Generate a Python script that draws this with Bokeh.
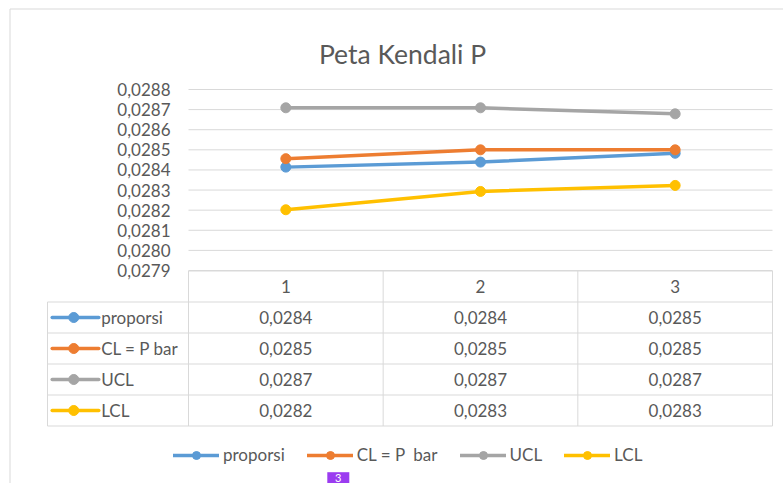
from bokeh.plotting import figure
from bokeh.models import Range1d, Legend, LegendItem
from bokeh.core.properties import value
from bokeh.embed import file_html
from bokeh.resources import INLINE

# ---------------- data ----------------
title_text = "Peta Kendali P"
categories = ["1", "2", "3"]
cat_pos = [1, 2, 3]
proporsi = [0.028414, 0.028439, 0.028483]
cl_pbar = [0.028456, 0.028500, 0.028500]
ucl = [0.028709, 0.028709, 0.028679]
lcl = [0.028202, 0.028293, 0.028323]
series_names = ["proporsi", "CL = P  bar", "UCL", "LCL"]
series_values = [proporsi, cl_pbar, ucl, lcl]
series_colors = ["#5B9BD5", "#ED7D31", "#A5A5A5", "#FFC000"]
y_ticks = [0.0279, 0.0280, 0.0281, 0.0282, 0.0283, 0.0284, 0.0285, 0.0286, 0.0287, 0.0288]
badge_text = "3"

def fmt(v):
    return f"{v:.4f}".replace(".", ",")

FONT = value("Lato")
GREY_TXT = "#595959"
GRID = "#D9D9D9"

W, H = 783, 483
p = figure(width=W, height=H, output_backend="svg", toolbar_location=None,
           x_range=Range1d(-0.4657, 3.5565), y_range=Range1d(6.8548, -8.7258),
           x_axis_location=None, y_axis_location=None,
           min_border=0, min_border_left=0, min_border_right=0,
           min_border_top=0, min_border_bottom=0)
p.extra_x_ranges = {"px": Range1d(0, W)}
p.extra_y_ranges = {"px": Range1d(H, 0),
                    "val": Range1d(0.0268409, 0.0292425)}
p.grid.visible = False
p.outline_line_color = None
p.background_fill_color = "white"
p.border_fill_color = "white"

# chart border (left & top visible)
p.segment(x0=[9.5, 9.5], y0=[8.5, 8.5], x1=[9.5, W], y1=[H, 8.5],
          x_range_name="px", y_range_name="px", line_color=GRID, line_width=1)

# title
p.text(x=[402], y=[53], text=[title_text], x_range_name="px", y_range_name="px",
       text_font=FONT, text_font_size=value("26.5px"), text_color=GREY_TXT,
       text_align="center", text_baseline="alphabetic")

# gridlines & y tick labels
p.segment(x0=[0.5] * len(y_ticks), x1=[3.5] * len(y_ticks), y0=y_ticks, y1=y_ticks,
          y_range_name="val", line_color=GRID, line_width=1)
p.text(x=[0.4076] * len(y_ticks), y=y_ticks, text=[fmt(t) for t in y_ticks],
       y_range_name="val", text_font=FONT, text_font_size=value("17px"),
       text_color=GREY_TXT, text_align="right", text_baseline="middle")

# series
legend_items = []
for name, vals, col in zip(series_names, series_values, series_colors):
    lr = p.line(cat_pos, vals, y_range_name="val", line_color=col, line_width=3.5,
                line_cap="round", line_join="round")
    sr = p.scatter(cat_pos, vals, y_range_name="val", size=10, fill_color=col,
                   line_color=col, line_width=1, marker="circle")
    legend_items.append(LegendItem(label=name, renderers=[lr, sr]))

# ---------------- data table ----------------
n_rows = len(series_names)
left_x = -0.2243
# horizontal lines
p.segment(x0=[0.5], x1=[3.5], y0=[0], y1=[0], line_color=GRID, line_width=1)
p.segment(x0=[left_x] * n_rows, x1=[3.5] * n_rows,
          y0=list(range(1, n_rows + 1)), y1=list(range(1, n_rows + 1)),
          line_color=GRID, line_width=1)
# vertical lines
p.segment(x0=[0.5, 1.5, 2.5, 3.5], x1=[0.5, 1.5, 2.5, 3.5],
          y0=[0, 0, 0, 0], y1=[n_rows + 1] * 4, line_color=GRID, line_width=1)
p.segment(x0=[left_x], x1=[left_x], y0=[1], y1=[n_rows + 1],
          line_color=GRID, line_width=1)
p.segment(x0=[left_x], x1=[3.5], y0=[n_rows + 1], y1=[n_rows + 1],
          line_color=GRID, line_width=1)
# header
p.text(x=cat_pos, y=[0.5] * 3, text=categories, text_font=FONT,
       text_font_size=value("17px"), text_color=GREY_TXT,
       text_align="center", text_baseline="middle")
# rows
for i, (name, vals, col) in enumerate(zip(series_names, series_values, series_colors)):
    ry = i + 1.5
    p.text(x=cat_pos, y=[ry] * 3, text=[fmt(v) for v in vals], text_font=FONT,
           text_font_size=value("17px"), text_color=GREY_TXT,
           text_align="center", text_baseline="middle")
    p.segment(x0=[-0.2002], x1=[0.0392], y0=[ry], y1=[ry], line_color=col,
              line_width=3.5, line_cap="round")
    p.scatter(x=[-0.0893], y=[ry], size=10, fill_color=col, line_color=col,
              marker="circle")
    p.text(x=[0.0515], y=[ry], text=[name], text_font=FONT,
           text_font_size=value("17px"), text_color=GREY_TXT,
           text_align="left", text_baseline="middle")

# ---------------- bottom legend ----------------
legend = Legend(items=legend_items, orientation="horizontal", location=(173, 18),
                glyph_width=46, glyph_height=20, label_height=20, label_standoff=4,
                spacing=22, padding=0, margin=0, border_line_color=None,
                background_fill_alpha=0, label_text_font="Lato",
                label_text_font_size="17px", label_text_color=GREY_TXT)
p.add_layout(legend)

# small purple badge at the bottom
p.rect(x=[337.8], y=[478.2], width=22, height=13, x_range_name="px", y_range_name="px",
       fill_color="#9B3CF0", line_color=None)
p.text(x=[337.8], y=[481.5], text=[badge_text], x_range_name="px", y_range_name="px",
       text_font=FONT, text_font_size=value("11px"), text_color="white",
       text_align="center", text_baseline="bottom")

open("out.html", "w").write(file_html(p, INLINE))
